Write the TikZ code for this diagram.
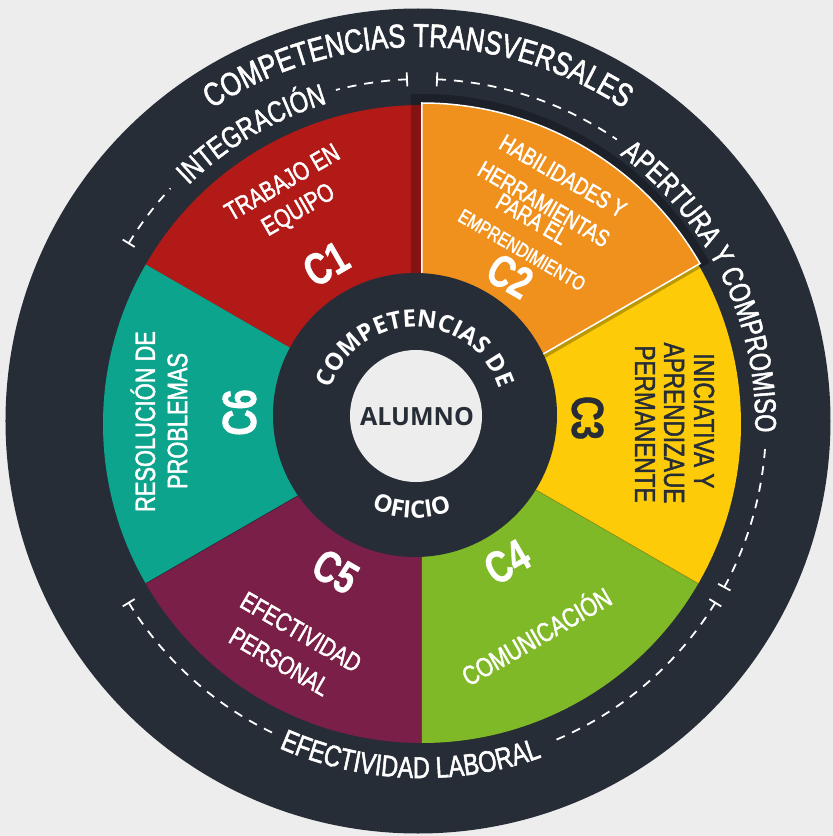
\documentclass[tikz,border=0pt]{standalone}
\usepackage{fontspec}
\usetikzlibrary{decorations.text}
\newfontfamily\condfont[FakeStretch=0.78, FakeBold=1.6]{Liberation Sans}
\newfontfamily\keyfont[FakeStretch=0.76, FakeBold=0.8]{Liberation Sans}
\newfontfamily\roundfont{Open Sans}
\newcommand{\titlefont}{\condfont\fontsize{33}{33}\selectfont}
\newcommand{\ringfont}{\condfont\fontsize{30}{30}\selectfont}
\newcommand{\innerfont}{\roundfont\bfseries\fontsize{24}{24}\selectfont}
\definecolor{bgcol}{HTML}{EDEDED}
\definecolor{ink}{HTML}{262D37}
\definecolor{cred}{HTML}{B21A18}
\definecolor{corange}{HTML}{F0901D}
\definecolor{cyellow}{HTML}{FDCB07}
\definecolor{cgreen}{HTML}{80B928}
\definecolor{cplum}{HTML}{7A1F47}
\definecolor{cteal}{HTML}{0CA48C}
\begin{document}
\begin{tikzpicture}[x=1pt,y=1pt,
  seclabel/.style={text=white, inner sep=0pt},
  ckey/.style={text=white, inner sep=0pt, font=\keyfont\bfseries\fontsize{45}{45}\selectfont},
  dashring/.style={white, line width=1.8pt, dash pattern=on 9pt off 8pt},
  ringtick/.style={white, line width=1.8pt},
  ringtext/.style={decorate, decoration={text along path, text align=center, text color=white, text={#1}}},
]
\useasboundingbox (-422,-412) rectangle (411,424);
\fill[bgcol] (-422,-412) rectangle (411,424);

% outer dark band
\fill[ink] (-4,3) circle[radius=412.5];

% the six competence sectors
\fill[cred]    (0,0) -- (90:319)  arc[start angle=90,  end angle=150, radius=319] -- cycle;
\fill[cteal]   (0,0) -- (150:319) arc[start angle=150, end angle=210, radius=319] -- cycle;
\fill[cplum]   (0,0) -- (210:319) arc[start angle=210, end angle=270, radius=319] -- cycle;
\fill[cgreen]  (0,0) -- (270:319) arc[start angle=270, end angle=330, radius=319] -- cycle;
\fill[cyellow] (0,0) -- (-30:319) arc[start angle=-30, end angle=30,  radius=319] -- cycle;
\draw[black, opacity=0.3, line width=0.8pt] (0,0) -- (210:319);
\draw[black, opacity=0.2, line width=0.8pt] (0,0) -- (-30:319);

% raised C2 piece with its drop shadow
\fill[black, opacity=0.25] (-11,60) -- (-11,329.8)
  arc[start angle=91.9, end angle=29.3, radius=330] -- (54.2,26.1) -- cycle;
\fill[corange] (0,0) -- (30:321) arc[start angle=30, end angle=90, radius=321] -- cycle;
\draw[white, line width=1.5pt, line join=miter] (0,0) -- (30:321) arc[start angle=30, end angle=90, radius=321] -- cycle;

% inner rings
\fill[ink] (-7,9) circle[radius=142];
\fill[bgcol] (-6,8) circle[radius=66];
\node[text=ink, inner sep=0pt, font=\roundfont\bfseries\fontsize{25}{25}\selectfont] (alumno) at (-5,7) {ALUMNO};

\begin{scope}[shift={(-7,9)}]
  \path[ringtext={|\innerfont|COMPETENCIAS DE}] (175:88) arc[start angle=175, end angle=5, radius=88];
  \path[ringtext={|\innerfont|OFICIO}] (200:103) arc[start angle=200, end angle=336, radius=103];
\end{scope}

% outer title
\begin{scope}[shift={(-4,3)}]
  \path[ringtext={|\titlefont|COMPETENCIAS TRANSVERSALES}] (150:374) arc[start angle=150, end angle=30, radius=374];
\end{scope}

% dashed groups with end ticks and their labels
\begin{scope}[shift={(0,1)}]
  \foreach \a in {148.5,92.5,87.5,-28.5,-31.5,-148.5}
    \draw[ringtick] (\a:337) -- (\a:351);
  \draw[dashring] (148.5:344) arc[start angle=148.5, end angle=137,   radius=344];
  \draw[dashring] (92.5:344)  arc[start angle=92.5,  end angle=104.5, radius=344];
  \draw[dashring] (87.5:344)  arc[start angle=87.5,  end angle=55.5,  radius=344];
  \draw[dashring] (-28.5:344) arc[start angle=-28.5, end angle=-3.5,  radius=344];
  \draw[dashring] (-148.5:344) arc[start angle=-148.5, end angle=-115.7, radius=344];
  \draw[dashring] (-31.5:344) arc[start angle=-31.5, end angle=-68.3, radius=344];
  \path[ringtext={|\ringfont|INTEGRACIÓN}] (148.5:333.3) arc[start angle=148.5, end angle=92.5, radius=333.3];
  \path[ringtext={|\ringfont|APERTURA Y COMPROMISO}] (82:333.3) arc[start angle=82, end angle=-30, radius=333.3];
  \path[ringtext={|\ringfont|EFECTIVIDAD LABORAL}] (208:355) arc[start angle=208, end angle=328, radius=355];
\end{scope}

% C1
\node[seclabel, rotate=30, font=\condfont\fontsize{26}{26}\selectfont] (c1a) at (-140,242) {TRABAJO EN};
\node[seclabel, rotate=30, font=\condfont\fontsize{26}{26}\selectfont] (c1b) at (-123,213) {EQUIPO};
\node[ckey, rotate=30] (c1k) at (-96,160) {C1};

% C2
\node[seclabel, rotate=-30, font=\condfont\fontsize{24}{24}\selectfont] (c2a) at (141,248) {HABILIDADES Y};
\node[seclabel, rotate=-30, font=\condfont\fontsize{24}{24}\selectfont] (c2b) at (122,220) {HERRAMIENTAS};
\node[seclabel, rotate=-30, font=\condfont\fontsize{24}{24}\selectfont] (c2c) at (110,205) {PARA EL};
\node[seclabel, rotate=-30, font=\condfont\fontsize{20}{20}\selectfont] (c2d) at (100,174) {EMPRENDIMIENTO};
\node[ckey, rotate=-30] (c2k) at (88,148) {C2};

% C3
\node[seclabel, text=ink, rotate=-90, font=\condfont\fontsize{29}{29}\selectfont] (c3a) at (282,3) {INICIATIVA Y};
\node[seclabel, text=ink, rotate=-90, font=\condfont\fontsize{29}{29}\selectfont] (c3b) at (252,1) {APRENDIZAUE};
\node[seclabel, text=ink, rotate=-90, font=\condfont\fontsize{29}{29}\selectfont] (c3c) at (223,0) {PERMANENTE};
\node[ckey, text=ink, rotate=-90] (c3k) at (165.5,6) {C3};

% C4
\node[ckey, rotate=30] (c4k) at (85,-138) {C4};
\node[seclabel, rotate=30, font=\condfont\fontsize{27}{27}\selectfont] (c4a) at (113.6,-211) {COMUNICACIÓN};

% C5
\node[ckey, rotate=-30] (c5k) at (-86.5,-147.5) {C5};
\node[seclabel, rotate=-30, font=\condfont\fontsize{26}{26}\selectfont] (c5a) at (-121,-208) {EFECTIVIDAD};
\node[seclabel, rotate=-30, font=\condfont\fontsize{26}{26}\selectfont] (c5b) at (-142.4,-237.5) {PERSONAL};

% C6
\node[seclabel, rotate=90, font=\condfont\fontsize{28}{28}\selectfont] (c6a) at (-279,2.5) {RESOLUCIÓN DE};
\node[seclabel, rotate=90, font=\condfont\fontsize{28}{28}\selectfont] (c6b) at (-244.5,3) {PROBLEMAS};
\node[ckey, rotate=90, font=\keyfont\bfseries\fontsize{48}{48}\selectfont] (c6k) at (-182.5,11.5) {C6};
\end{tikzpicture}
\end{document}
